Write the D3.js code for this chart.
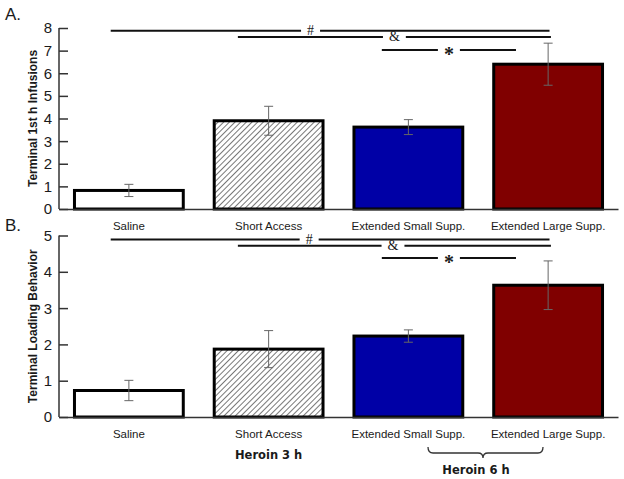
<!DOCTYPE html>
<html>
<head>
<meta charset="utf-8">
<script src="https://cdn.jsdelivr.net/npm/d3@7"></script>
<style>
  body { margin: 0; background: #fff; }
  text { font-family: "Liberation Sans", Arial, sans-serif; fill: #1a1a1a; }
</style>
</head>
<body>
<script>
const categories = ["Saline", "Short Access", "Extended Small Supp.", "Extended Large Supp."];

const infusionMeans = [0.82, 3.9, 3.62, 6.4];
const infusionSem = [0.27, 0.64, 0.33, 0.93];
const infusionTicks = [0, 1, 2, 3, 4, 5, 6, 7, 8];

const loadingMeans = [0.73, 1.87, 2.23, 3.63];
const loadingSem = [0.28, 0.51, 0.17, 0.67];
const loadingTicks = [0, 1, 2, 3, 4, 5];

// significance brackets: category index units for x, data units for y
const infusionSig = [
    { label: "#", from: -0.13, to: 3.01, mid: 1.30, y: 7.88 },
    { label: "&", from: 0.78, to: 3.02, mid: 1.90, y: 7.6 },
    { label: "*", from: 1.81, to: 2.77, mid: 2.29, y: 7.03 }
];
const loadingSig = [
    { label: "#", from: -0.13, to: 3.01, mid: 1.29, y: 4.89 },
    { label: "&", from: 0.78, to: 3.02, mid: 1.89, y: 4.72 },
    { label: "*", from: 1.81, to: 2.77, mid: 2.29, y: 4.38 }
];

const fills = ["#ffffff", "url(#hatch)", "#0000a6", "#800000"];

let w = 624,
    h = 479;

let svg = d3.select("body").append("svg")
    .attr("width", w)
    .attr("height", h);

let hatch = svg.append("defs").append("pattern")
    .attr("id", "hatch")
    .attr("patternUnits", "userSpaceOnUse")
    .attr("width", 4)
    .attr("height", 4)
    .attr("patternTransform", "rotate(45)");
hatch.append("rect").attr("width", 4).attr("height", 4).attr("fill", "#fff");
hatch.append("line")
    .attr("x1", 0).attr("y1", 0).attr("x2", 0).attr("y2", 4)
    .attr("stroke", "#555").attr("stroke-width", 1.6);

let x = d3.scaleBand()
    .domain(categories)
    .range([59, 618])
    .paddingInner(0.2)
    .paddingOuter(0.1);

// index -> pixel, for the significance lines
let xi = d3.scaleLinear()
    .domain([0, 3])
    .range([x(categories[0]) + x.bandwidth() / 2, x(categories[3]) + x.bandwidth() / 2]);

function drawPanel(opts) {
    let y = d3.scaleLinear().domain(opts.domain).range(opts.range);
    let g = svg.append("g");

    g.append("text")
        .attr("x", 5)
        .attr("y", opts.letterY)
        .style("font-size", "17px")
        .text(opts.letter);

    // bars
    g.selectAll("rect.bar")
        .data(opts.means)
        .enter().append("rect")
        .attr("class", "bar")
        .attr("x", function (d, i) { return x(categories[i]) + 1.5; })
        .attr("y", function (d) { return y(d); })
        .attr("width", x.bandwidth() - 3)
        .attr("height", function (d) { return y(0) - y(d); })
        .attr("fill", function (d, i) { return fills[i]; })
        .attr("stroke", "#000")
        .attr("stroke-width", 3);

    // error bars
    let err = g.selectAll("g.err")
        .data(opts.means)
        .enter().append("g")
        .attr("class", "err")
        .attr("stroke", "#666")
        .attr("stroke-width", 1);
    err.append("line")
        .attr("x1", function (d, i) { return x(categories[i]) + x.bandwidth() / 2; })
        .attr("x2", function (d, i) { return x(categories[i]) + x.bandwidth() / 2; })
        .attr("y1", function (d, i) { return y(d - opts.sem[i]); })
        .attr("y2", function (d, i) { return y(d + opts.sem[i]); });
    [-1, 1].forEach(function (s) {
        err.append("line")
            .attr("x1", function (d, i) { return x(categories[i]) + x.bandwidth() / 2 - 4.5; })
            .attr("x2", function (d, i) { return x(categories[i]) + x.bandwidth() / 2 + 4.5; })
            .attr("y1", function (d, i) { return y(d + s * opts.sem[i]); })
            .attr("y2", function (d, i) { return y(d + s * opts.sem[i]); });
    });

    // y axis, ticks pointing inward
    let yAxis = g.append("g")
        .attr("transform", "translate(59,0)")
        .call(d3.axisRight(y).tickValues(opts.ticks).tickSize(9).tickFormat(""));
    yAxis.select(".domain").attr("stroke", "#333").attr("stroke-width", 1.5).attr("d",
        "M0," + y(opts.domain[0]) + "V" + y(opts.domain[1]));
    yAxis.selectAll(".tick line").attr("stroke", "#333").attr("stroke-width", 1.5);

    g.selectAll("text.ytick")
        .data(opts.ticks)
        .enter().append("text")
        .attr("class", "ytick")
        .attr("x", 52)
        .attr("y", function (d) { return y(d); })
        .attr("dy", "0.36em")
        .attr("text-anchor", "end")
        .style("font-size", "15px")
        .text(function (d) { return d; });

    // x axis baseline and labels
    let xAxis = g.append("g")
        .attr("transform", "translate(0," + y(0) + ")")
        .call(d3.axisBottom(x).tickSize(0).tickPadding(13));
    xAxis.select(".domain").attr("stroke", "#333").attr("stroke-width", 1.5);
    xAxis.selectAll(".tick text")
        .style("font-size", "11.5px")
        .style("font-family", "'Liberation Sans', Arial, sans-serif")
        .attr("fill", "#1a1a1a");

    g.append("text")
        .attr("transform", "translate(37," + (opts.range[0] + opts.range[1]) / 2 + ") rotate(-90)")
        .attr("text-anchor", "middle")
        .style("font-size", "12px")
        .style("font-weight", "bold")
        .text(opts.title);

    // significance lines
    opts.sig.forEach(function (s) {
        let t = g.append("text")
            .attr("x", xi(s.mid))
            .attr("y", y(s.y))
            .attr("dy", s.label == "*" ? "0.55em" : "0.3em")
            .attr("text-anchor", "middle")
            .style("font-size", s.label == "*" ? "20px" : "14px")
            .style("font-weight", s.label == "*" ? "bold" : "normal")
            .style("font-family", "'Liberation Serif', 'Times New Roman', serif")
            .text(s.label);
        let half = t.node().getComputedTextLength() / 2 + 6;
        [[xi(s.from), xi(s.mid) - half], [xi(s.mid) + half, xi(s.to)]].forEach(function (seg) {
            g.append("line")
                .attr("x1", seg[0]).attr("x2", seg[1])
                .attr("y1", y(s.y)).attr("y2", y(s.y))
                .attr("stroke", "#111")
                .attr("stroke-width", 2);
        });
    });
}

drawPanel({
    letter: "A.", letterY: 20,
    domain: [0, 8], range: [209, 28],
    means: infusionMeans, sem: infusionSem, ticks: infusionTicks,
    title: "Terminal 1st h Infusions",
    sig: infusionSig
});

drawPanel({
    letter: "B.", letterY: 231,
    domain: [0, 5], range: [417, 235.5],
    means: loadingMeans, sem: loadingSem, ticks: loadingTicks,
    title: "Terminal Loading Behavior",
    sig: loadingSig
});

// group labels under panel B
svg.append("text")
    .attr("x", xi(1))
    .attr("y", 459)
    .attr("text-anchor", "middle")
    .style("font-family", "'DejaVu Sans', Verdana, sans-serif")
    .style("font-weight", "bold")
    .style("font-size", "11.5px")
    .text("Heroin 3 h");

svg.append("path")
    .attr("d", "M428,447 Q428,453 433,453 H478 Q483,453 483,458 Q483,453 488,453 H538 Q543,453 543,447")
    .attr("fill", "none")
    .attr("stroke", "#333")
    .attr("stroke-width", 1.3);

svg.append("text")
    .attr("x", 476)
    .attr("y", 474)
    .attr("text-anchor", "middle")
    .style("font-family", "'DejaVu Sans', Verdana, sans-serif")
    .style("font-weight", "bold")
    .style("font-size", "11.5px")
    .text("Heroin 6 h");
</script>
</body>
</html>
